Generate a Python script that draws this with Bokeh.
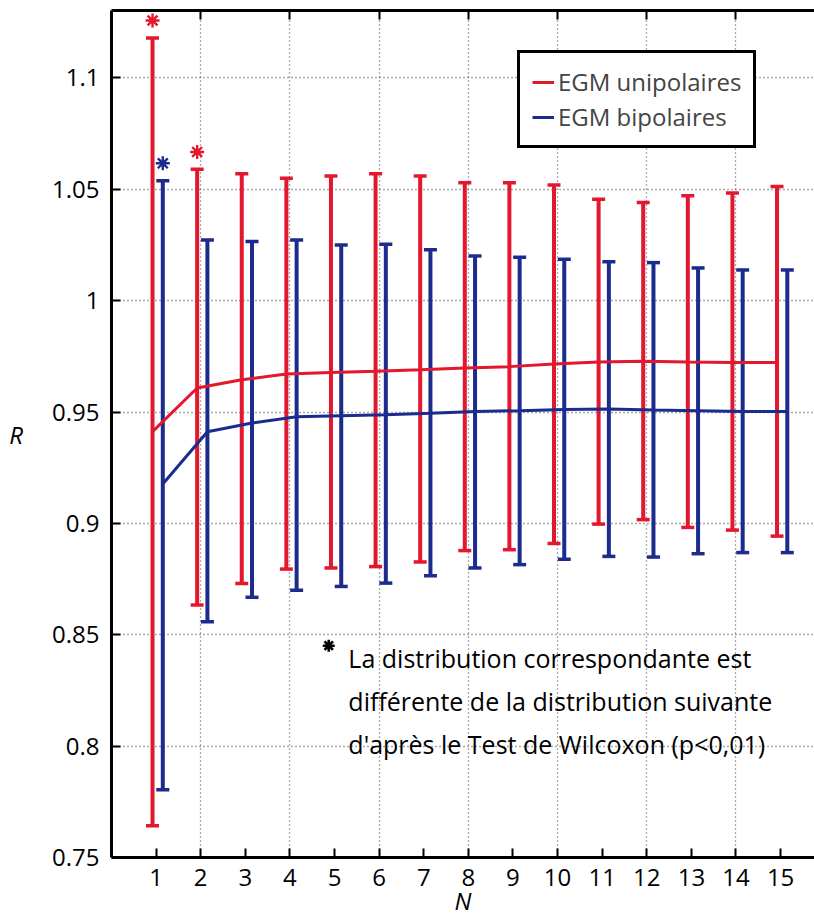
from bokeh.plotting import figure
from bokeh.models import (ColumnDataSource, Whisker, TeeHead, FixedTicker, LinearAxis,
                          Range1d, CustomJSTickFormatter)
from bokeh.core.properties import value
from bokeh.embed import file_html
from bokeh.resources import INLINE

# ---------------- data ----------------
N = list(range(1, 16))
red_mean = [0.9412, 0.9608, 0.9645, 0.9671, 0.9678, 0.9683, 0.9690, 0.9698,
            0.9704, 0.9716, 0.9725, 0.9728, 0.9725, 0.9723, 0.9723]
red_upper = [1.118, 1.059, 1.057, 1.055, 1.056, 1.057, 1.056, 1.053,
             1.053, 1.052, 1.0455, 1.0441, 1.0471, 1.0484, 1.0513]
red_lower = [0.7643, 0.8634, 0.873, 0.8795, 0.880, 0.8806, 0.8827, 0.8878,
             0.8882, 0.891, 0.8997, 0.9017, 0.8982, 0.897, 0.8943]
blue_mean = [0.9177, 0.9412, 0.9451, 0.9479, 0.9484, 0.9488, 0.9495, 0.9503,
             0.9506, 0.9512, 0.9514, 0.9509, 0.9506, 0.9503, 0.9503]
blue_upper = [1.0539, 1.0272, 1.0266, 1.0272, 1.025, 1.0253, 1.0229, 1.0201,
              1.0195, 1.0186, 1.0175, 1.0171, 1.0147, 1.0138, 1.0138]
blue_lower = [0.7804, 0.8559, 0.8668, 0.870, 0.8717, 0.8732, 0.8765, 0.880,
              0.8815, 0.8839, 0.8852, 0.8849, 0.8864, 0.8869, 0.8869]
red_signif = [1, 2]      # N with a red asterisk
blue_signif = [1]        # N with a blue asterisk
y_ticks = [0.75, 0.8, 0.85, 0.9, 0.95, 1.0, 1.05, 1.1]
x_ticks = N
grid_x = [2, 4, 6, 8, 10, 12, 14]
series_names = ["EGM unipolaires", "EGM bipolaires"]
note_lines = ["La distribution correspondante est",
              "différente de la distribution suivante",
              "d'après le Test de Wilcoxon (p<0,01)"]

# ---------------- style ----------------
RED = "#e3172d"
BLUE = "#1c2b8e"
RED_SHIFT = -0.08
BLUE_SHIFT = 0.15
STAR_GAP = 0.0078
FONT = "Open Sans"

p = figure(width=814, height=920, x_range=Range1d(0, 15.76), y_range=Range1d(0.75, 1.1303),
           output_backend="svg", toolbar_location=None,
           min_border_left=111, min_border_right=0, min_border_top=10, min_border_bottom=63)
p.outline_line_color = None
p.background_fill_color = "white"

# axes
xa = p.xaxis[0]
xa.ticker = FixedTicker(ticks=x_ticks)
ya = p.yaxis[0]
ya.ticker = FixedTicker(ticks=y_ticks)
ya.formatter = CustomJSTickFormatter(code="return String(Math.round(tick*100)/100)")
for ax in (xa, ya):
    ax.axis_line_width = 3
    ax.axis_line_color = "black"
    ax.major_tick_in = 9
    ax.major_tick_out = 0
    ax.major_tick_line_width = 2
    ax.minor_tick_line_color = None
    ax.major_label_text_font = FONT
    ax.major_label_text_font_size = "24px"
    ax.major_label_text_color = "black"
    ax.axis_label_text_font = FONT
    ax.axis_label_text_font_size = "24px"
    ax.axis_label_text_font_style = "italic"
    ax.axis_label_text_color = "black"
xa.major_label_standoff = 11
ya.major_label_standoff = 12
xa.axis_label = "N"
xa.axis_label_standoff = -5
ya.axis_label = "R"
ya.axis_label_standoff = 26
try:
    ya.axis_label_orientation = "horizontal"
except Exception:
    pass

top = LinearAxis(ticker=FixedTicker(ticks=grid_x), major_label_text_font_size="1px",
                 major_label_text_color=None, major_label_standoff=0,
                 major_tick_in=9, major_tick_out=0,
                 major_tick_line_width=2, axis_line_width=3, minor_tick_line_color=None)
p.add_layout(top, "above")

# grids
p.xgrid.ticker = FixedTicker(ticks=grid_x)
p.ygrid.ticker = FixedTicker(ticks=y_ticks)
for g in (p.xgrid, p.ygrid):
    g.grid_line_color = "#555555"
    g.grid_line_dash = "1 3"
    g.grid_line_width = 1.3

# sources
rsrc = ColumnDataSource(dict(x=[n + RED_SHIFT for n in N], mean=red_mean,
                             upper=red_upper, lower=red_lower))
bsrc = ColumnDataSource(dict(x=[n + BLUE_SHIFT for n in N], mean=blue_mean,
                             upper=blue_upper, lower=blue_lower))

for src, col in ((rsrc, RED), (bsrc, BLUE)):
    w = Whisker(source=src, base="x", upper="upper", lower="lower", dimension="height",
                line_color=col, line_width=4,
                upper_head=TeeHead(size=13, line_color=col, line_width=3.5),
                lower_head=TeeHead(size=13, line_color=col, line_width=3.5))
    p.add_layout(w)

p.line("x", "mean", source=rsrc, color=RED, line_width=3, legend_label=series_names[0])
p.line("x", "mean", source=bsrc, color=BLUE, line_width=3, legend_label=series_names[1])

# significance asterisks
rs_x = [n + RED_SHIFT for n in red_signif]
rs_y = [red_upper[n - 1] + STAR_GAP for n in red_signif]
bs_x = [n + BLUE_SHIFT for n in blue_signif]
bs_y = [blue_upper[n - 1] + STAR_GAP for n in blue_signif]
p.scatter(rs_x, rs_y, marker="asterisk", size=14, line_color=RED, line_width=2.4)
p.scatter(bs_x, bs_y, marker="asterisk", size=14, line_color=BLUE, line_width=2.4)

# note text
note_x = 5.31
note_y0 = 0.8397
note_step = 0.0193
p.text(x=[note_x] * 3, y=[note_y0 - i * note_step for i in range(3)], text=note_lines,
       text_font=value(FONT), text_font_size="25px", text_align="left",
       text_baseline="middle", text_color="black")
p.scatter([4.87], [0.8451], marker="asterisk", size=12, line_color="black", line_width=2.6)

# legend
lg = p.legend[0]
lg.location = (406, 709)
lg.border_line_width = 3
lg.border_line_color = "black"
lg.border_line_alpha = 1
lg.label_text_font = FONT
lg.label_text_font_size = "24px"
lg.glyph_width = 22
lg.label_standoff = 4
lg.padding = 12
lg.spacing = 2
lg.margin = 0
lg.background_fill_alpha = 1

open("out.html", "w").write(file_html(p, INLINE))
